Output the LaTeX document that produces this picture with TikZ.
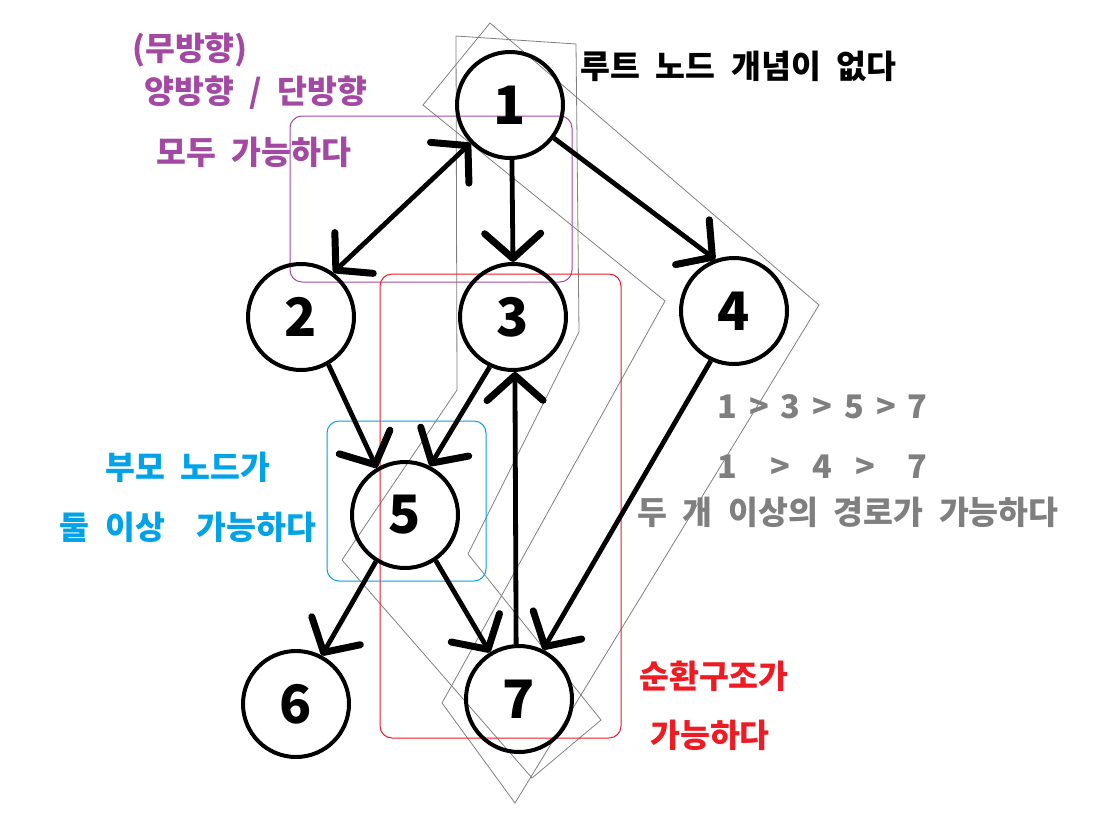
\documentclass[tikz,border=0pt]{standalone}
\usepackage{fontspec}
\setmainfont{Noto Sans CJK KR}[WordSpace=2.1]
\usepackage{tikz}
\usetikzlibrary{arrows.meta}

\definecolor{notepurple}{HTML}{A349A4}
\definecolor{noteblue}{HTML}{00A2E8}
\definecolor{notered}{HTML}{ED1C24}
\definecolor{notegray}{HTML}{7F7F7F}
\definecolor{bandgray}{HTML}{808080}

\begin{document}
\begin{tikzpicture}[
    x=1pt, y=-1pt,
    every node/.style={font=\fontsize{32.5}{38}\selectfont\bfseries},
    vtx/.style={circle, draw, line width=4pt, minimum size=106pt, inner sep=0pt, font=\fontsize{53}{53}\selectfont\bfseries},
    >={Straight Barb[length=25pt, width=56pt, line width=7pt, round]},
    arr/.style={->, line width=4.8pt},
    region/.style={draw=#1, line width=1pt, rounded corners=12pt},
    band/.style={draw=bandgray, line width=0.8pt},
    note/.style={text=#1, align=center},
    note/.default=black,
]
    \useasboundingbox (0,0) rectangle (1099,827);

    % highlighted paths and groups
    \draw[band] (456,36) -- (576,44) -- (579,332) -- (468,554) -- (601,720) -- (532,778) -- (342,560) -- (457,390) -- cycle;
    \draw[band] (490,23) -- (819,305) -- (515,803) -- (442,703) -- (665,301) -- (423,105) -- cycle;
    \draw[region=notepurple] (290,116) rectangle (572,282);
    \draw[region=notered] (380,274) rectangle (621,738);
    \draw[region=noteblue] (327,421) rectangle (486,581);

    % vertices
    \node[vtx] (n1) at (510,105) {1};
    \node[vtx] (n2) at (301,317) {2};
    \node[vtx] (n3) at (513,317) {3};
    \node[vtx] (n4) at (734,311) {4};
    \node[vtx] (n5) at (405,515) {5};
    \node[vtx] (n6) at (296,704) {6};
    \node[vtx] (n7) at (519,699) {7};

    % edges
    \draw[arr, <->] (n2.54) -- (n1.224);
    \draw[arr] (n1.-88) -- (n3.90);
    \draw[arr] (n1.-37) -- (n4.110);
    \draw[arr] (n2.-60) -- (n5.121);
    \draw[arr] (n3.245) -- (n5.63);
    \draw[arr] (n7.93) -- (n3.-88);
    \draw[arr] (n4.245) -- (n7.64);
    \draw[arr] (n5.238) -- (n6.62);
    \draw[arr] (n5.-56) -- (n7.122);

    % notes
    \node[note=notepurple] (undir) at (190,50) {(무방향)};
    \node[note=notepurple] (bothdir) at (256,93) {양방향 / 단방향};
    \node[note=notepurple] (bothok) at (254,152) {모두 가능하다};
    \node[note, anchor=west] (noroot) at (577,66) {루트 노드 개념이 없다};
    \node[note=notegray, anchor=west] (pathA) at (714,407)
        {\rlap{1}\hspace{32pt}\rlap{>}\hspace{31pt}\rlap{3}\hspace{32pt}\rlap{>}\hspace{32pt}\rlap{5}\hspace{32pt}\rlap{>}\hspace{31pt}7};
    \node[note=notegray, anchor=west] (pathB) at (714,467)
        {\rlap{1}\hspace{53pt}\rlap{>}\hspace{42pt}\rlap{4}\hspace{43pt}\rlap{>}\hspace{52pt}7};
    \node[note=notegray] (multi) at (848,512) {두 개 이상의 경로가 가능하다};
    \node[note=noteblue] (parent) at (188,467) {부모 노드가};
    \node[note=noteblue] (twoup) at (188,527) {둘 이상 \ 가능하다};
    \node[note=notered] (cycle) at (714,676) {순환구조가};
    \node[note=notered] (cycleok) at (710,735) {가능하다};
\end{tikzpicture}
\end{document}
